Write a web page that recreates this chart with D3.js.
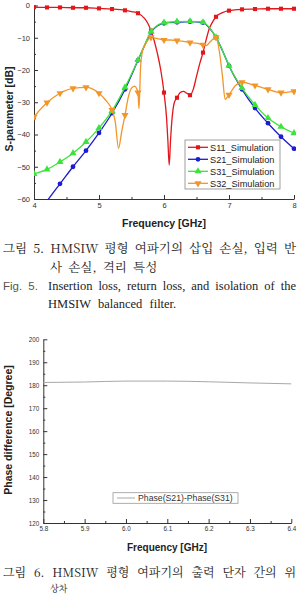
<!DOCTYPE html>
<html>
<head>
<meta charset="utf-8">
<script src="https://cdn.jsdelivr.net/npm/d3@7"></script>
<style>
    body { margin: 0; background: #fff; }
    svg { display: block; font-family: "Liberation Sans", Arial, sans-serif; }
    .axis path, .axis line { stroke: #333; }
    .axis text { fill: #333; }
    .axistitle { font-weight: bold; fill: #222; }
    .cap { font-family: "Noto Serif CJK KR", "Noto Sans CJK KR", serif; fill: #222; }
    .capen { font-family: "Liberation Serif", "Times New Roman", serif; fill: #222; }
</style>
</head>
<body>
<svg id="fig" width="304" height="594"></svg>
<script>
// S-parameter curves, [frequency GHz, dB]
var s11 = [[4.0,-0.5],[4.2,-0.6],[4.4,-0.6],[4.6,-0.7],[4.8,-0.7],[5.0,-0.9],[5.2,-1.1],[5.4,-1.5],[5.5,-1.9],
    [5.6,-2.4],[5.7,-4.0],[5.75,-5.5],[5.8,-7.8],[5.9,-15],[5.95,-20],[6.0,-27],[6.04,-35],[6.06,-42],[6.08,-49.5],
    [6.1,-42],[6.12,-36],[6.16,-30],[6.2,-28.6],[6.25,-27],[6.3,-26.6],[6.35,-27.2],[6.4,-27.8],[6.45,-26],[6.5,-22],
    [6.55,-18],[6.6,-14.6],[6.65,-10.5],[6.7,-7],[6.75,-5],[6.8,-3.5],[6.9,-2.2],[7.0,-1.6],[7.2,-1.2],[7.4,-1.1],
    [7.6,-1.0],[7.8,-1.0],[8.0,-1.0]];
var s21 = [[4.0,-66],[4.2,-60.6],[4.4,-55.3],[4.6,-50],[4.8,-45],[5.0,-39.5],[5.2,-33.4],[5.4,-26],[5.6,-17],
    [5.7,-12.5],[5.8,-8.3],[5.9,-6.3],[6.0,-5.5],[6.2,-5.2],[6.4,-5.0],[6.6,-5.3],[6.7,-7],[6.8,-9.9],[6.9,-14],
    [7.0,-18.7],[7.2,-26],[7.4,-31.8],[7.6,-36.5],[7.8,-40.7],[8.0,-44.4]];
var s31 = [[4.0,-52.2],[4.2,-50.8],[4.4,-48.5],[4.6,-45.8],[4.8,-42.3],[5.0,-38],[5.2,-32.7],[5.4,-25.4],[5.6,-16.9],
    [5.7,-12.3],[5.8,-8.1],[5.9,-6.1],[6.0,-5.3],[6.2,-5.0],[6.4,-4.9],[6.6,-5.2],[6.7,-6.9],[6.8,-9.9],[6.9,-14],
    [7.0,-18.7],[7.2,-25.6],[7.4,-30.8],[7.6,-34.9],[7.8,-37.6],[8.0,-39.6]];
var s32 = [[4.0,-34.5],[4.2,-30.1],[4.4,-27.2],[4.6,-25.7],[4.8,-25.4],[5.0,-27.2],[5.1,-29.3],[5.2,-32.4],[5.25,-36],
    [5.3,-44.3],[5.35,-39],[5.4,-34],[5.45,-28.5],[5.5,-25.6],[5.55,-25],[5.58,-25.8],[5.6,-27],[5.615,-32],[5.64,-19],
    [5.66,-15],[5.7,-12.5],[5.75,-10.8],[5.8,-9.9],[5.9,-10.3],[6.0,-10.7],[6.1,-10.7],[6.2,-10.9],[6.3,-11.1],
    [6.4,-11.5],[6.5,-11.7],[6.6,-12.2],[6.65,-12.4],[6.7,-11.5],[6.75,-10.5],[6.8,-9.9],[6.85,-14],[6.9,-22],
    [6.94,-29.1],[6.97,-28.5],[7.0,-27.7],[7.1,-24.8],[7.2,-23.8],[7.4,-24.8],[7.6,-26],[7.8,-27],[8.0,-26.6]];
var seriesNames = ['S11_Simulation', 'S21_Simulation', 'S31_Simulation', 'S32_Simulation'];
var sTicksX = [4, 5, 6, 7, 8];
var sTicksY = [0, -10, -20, -30, -40, -50, -60];

// phase difference curve
var phaseFreq = [5.8, 5.9, 6.0, 6.1, 6.2, 6.3, 6.4];
var phaseDiff = [181.2, 181.4, 181.8, 181.8, 181.5, 181.0, 180.6];
var pTicksX = [5.8, 5.9, 6.0, 6.1, 6.2, 6.3, 6.4];
var pTicksY = [120, 130, 140, 150, 160, 170, 180, 190, 200];

var svg = d3.select('#fig');

// ---------- Figure 5 ----------
var x1 = d3.scaleLinear().domain([4, 8]).range([34, 294]);
var y1 = d3.scaleLinear().domain([-60, 0]).range([199, 5.5]);

var colors = ['#e3161c', '#1c1cd0', '#3be33b', '#f2962a'];
var shapes = [d3.symbolSquare, d3.symbolCircle, d3.symbolTriangle, d3.symbolTriangle];
var sizes = [17, 18, 22, 22];
var allSeries = [s11, s21, s31, s32];

svg.append('clipPath').attr('id', 'clip1')
    .append('rect').attr('x', 34).attr('y', 2).attr('width', 262).attr('height', 197);

// minor ticks
svg.append('g').attr('class', 'axis')
    .attr('transform', 'translate(34,0)')
    .call(d3.axisLeft(y1).tickValues(d3.range(-55, 0, 10)).tickSize(-2).tickFormat(''))
    .select('.domain').remove();
svg.append('g').attr('class', 'axis')
    .attr('transform', 'translate(0,199)')
    .call(d3.axisBottom(x1).tickValues([4.5, 5.5, 6.5, 7.5]).tickSize(-2).tickFormat(''))
    .select('.domain').remove();

svg.append('g').attr('class', 'axis')
    .attr('transform', 'translate(34,0)')
    .call(d3.axisLeft(y1).tickValues(sTicksY).tickSizeInner(-4).tickSizeOuter(0).tickPadding(4))
    .selectAll('text').style('font-size', '7.5px');
svg.append('g').attr('class', 'axis')
    .attr('transform', 'translate(0,199)')
    .call(d3.axisBottom(x1).tickValues(sTicksX).tickSizeInner(-4).tickSizeOuter(0).tickPadding(4)
        .tickFormat(d3.format('d')))
    .selectAll('text').style('font-size', '7.5px');

var line1 = d3.line()
    .curve(d3.curveMonotoneX)
    .x(function(d) { return x1(d[0]); })
    .y(function(d) { return y1(d[1]); });

var plot1 = svg.append('g').attr('clip-path', 'url(#clip1)');
allSeries.forEach(function(data, i) {
    plot1.append('path')
        .datum(data)
        .attr('d', line1)
        .attr('fill', 'none')
        .attr('stroke', colors[i])
        .attr('stroke-width', 1.3);

    // markers every 0.2 GHz
    var marks = data.filter(function(d) {
        var k = Math.round(d[0] * 10);
        return Math.abs(d[0] * 10 - k) < 1e-6 && k % 2 === 0 && d[1] >= -60;
    });
    plot1.selectAll(null)
        .data(marks)
        .enter()
        .append('path')
        .attr('d', d3.symbol().type(shapes[i]).size(sizes[i]))
        .attr('transform', function(d) {
            return 'translate(' + x1(d[0]) + ',' + y1(d[1]) + ')' + (i === 3 ? ' rotate(180)' : '');
        })
        .attr('fill', colors[i]);
});

// legend
var leg = svg.append('g');
leg.append('rect')
    .attr('x', 185).attr('y', 140).attr('width', 95).attr('height', 49)
    .attr('fill', '#fff').attr('stroke', '#888').attr('stroke-width', 0.8);
seriesNames.forEach(function(name, i) {
    var yy = 147.3 + i * 12;
    leg.append('line')
        .attr('x1', 188).attr('x2', 208).attr('y1', yy).attr('y2', yy)
        .attr('stroke', colors[i]).attr('stroke-width', 1.3);
    leg.append('path')
        .attr('d', d3.symbol().type(shapes[i]).size(sizes[i]))
        .attr('transform', 'translate(198,' + yy + ')' + (i === 3 ? ' rotate(180)' : ''))
        .attr('fill', colors[i]);
    leg.append('text')
        .attr('x', 210).attr('y', yy + 3.3)
        .style('font-size', '9.2px').attr('fill', '#222')
        .text(name);
});

// axis titles
svg.append('text')
    .attr('class', 'axistitle')
    .attr('transform', 'translate(12.5,109) rotate(-90)')
    .attr('text-anchor', 'middle')
    .style('font-size', '10.5px')
    .text('S-parameter [dB]');
svg.append('text')
    .attr('class', 'axistitle')
    .attr('x', 164).attr('y', 227)
    .attr('text-anchor', 'middle')
    .style('font-size', '10.5px')
    .text('Frequency [GHz]');

// ---------- Figure 6 ----------
var x2 = d3.scaleLinear().domain([5.8, 6.4]).range([43.3, 291.3]);
var y2 = d3.scaleLinear().domain([120, 200]).range([523, 339.3]);

svg.append('g').attr('class', 'axis')
    .attr('transform', 'translate(43.3,0)')
    .call(d3.axisLeft(y2).tickValues(d3.range(125, 200, 10)).tickSize(-2).tickFormat(''))
    .select('.domain').remove();
svg.append('g').attr('class', 'axis')
    .attr('transform', 'translate(0,523)')
    .call(d3.axisBottom(x2).tickValues(d3.range(5.85, 6.4, 0.1)).tickSize(-2).tickFormat(''))
    .select('.domain').remove();
svg.append('g').attr('class', 'axis')
    .attr('transform', 'translate(43.3,0)')
    .call(d3.axisLeft(y2).tickValues(pTicksY).tickSizeInner(-4).tickSizeOuter(0).tickPadding(4))
    .selectAll('text').style('font-size', '6.3px');
svg.append('g').attr('class', 'axis')
    .attr('transform', 'translate(0,523)')
    .call(d3.axisBottom(x2).tickValues(pTicksX).tickSizeInner(-4).tickSizeOuter(0).tickPadding(4)
        .tickFormat(d3.format('.1f')))
    .selectAll('text').style('font-size', '6.3px');

var line2 = d3.line()
    .curve(d3.curveMonotoneX)
    .x(function(d, i) { return x2(phaseFreq[i]); })
    .y(function(d) { return y2(d); });
svg.append('path')
    .datum(phaseDiff)
    .attr('d', line2)
    .attr('fill', 'none')
    .attr('stroke', '#a8a8a8')
    .attr('stroke-width', 1);

var leg2 = svg.append('g');
leg2.append('rect')
    .attr('x', 113).attr('y', 492.7).attr('width', 125).attr('height', 10.6)
    .attr('fill', '#fff').attr('stroke', '#999').attr('stroke-width', 0.8);
leg2.append('line')
    .attr('x1', 117).attr('x2', 135).attr('y1', 498).attr('y2', 498)
    .attr('stroke', '#a8a8a8').attr('stroke-width', 1);
leg2.append('text')
    .attr('x', 138).attr('y', 501)
    .style('font-size', '8.7px').attr('fill', '#333')
    .text('Phase(S21)-Phase(S31)');

svg.append('text')
    .attr('class', 'axistitle')
    .attr('transform', 'translate(12,430) rotate(-90)')
    .attr('text-anchor', 'middle')
    .style('font-size', '10.5px')
    .text('Phase difference [Degree]');
svg.append('text')
    .attr('class', 'axistitle')
    .attr('x', 167).attr('y', 551)
    .attr('text-anchor', 'middle')
    .style('font-size', '10px')
    .text('Frequency [GHz]');

// ---------- captions ----------
// spread words of a line evenly between x0 and x1
function justifyLine(words, x0, x1, y, cls, size) {
    var nodes = words.map(function(w) {
        return svg.append('text').attr('class', cls).attr('y', y).style('font-size', size).text(w);
    });
    var widths = nodes.map(function(n) { return n.node().getComputedTextLength(); });
    var gap = (x1 - x0 - d3.sum(widths)) / (words.length - 1);
    var xx = x0;
    nodes.forEach(function(n, i) {
        n.attr('x', xx);
        xx += widths[i] + gap;
    });
}

justifyLine('그림 5. HMSIW 평형 여파기의 삽입 손실, 입력 반'.split(' '), 3, 296, 253, 'cap', '12.5px');
svg.append('text').attr('class', 'cap').attr('x', 50).attr('y', 271.5)
    .style('font-size', '12.5px').style('word-spacing', '3px').text('사 손실, 격리 특성');

svg.append('text').attr('x', 3).attr('y', 290).style('font-size', '11.5px').attr('fill', '#555')
    .style('word-spacing', '3px').text('Fig. 5.');
justifyLine('Insertion loss, return loss, and isolation of the'.split(' '), 48, 296, 290, 'capen', '12.5px');
svg.append('text').attr('class', 'capen').attr('x', 48).attr('y', 307.5)
    .style('font-size', '12.5px').style('word-spacing', '4px').text('HMSIW balanced filter.');

justifyLine('그림 6. HMSIW 평형 여파기의 출력 단자 간의 위'.split(' '), 3, 296, 577, 'cap', '12px');
svg.append('text').attr('class', 'cap').attr('x', 50).attr('y', 591.5)
    .style('font-size', '9px').text('상차');
</script>
</body>
</html>
